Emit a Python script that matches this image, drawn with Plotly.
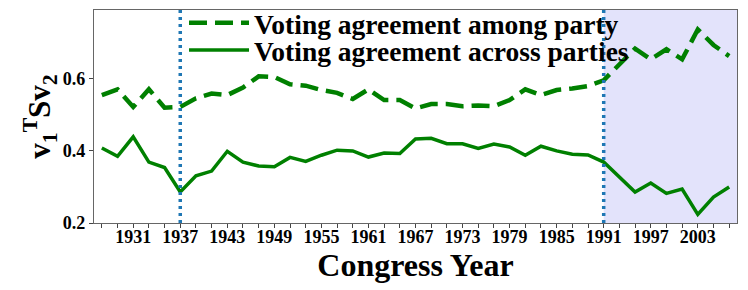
import plotly.graph_objects as go

years = list(range(1927, 2008, 2))
among_party = [0.555, 0.571, 0.522, 0.571, 0.520, 0.522, 0.546, 0.559, 0.555, 0.576,
               0.607, 0.605, 0.585, 0.581, 0.569, 0.561, 0.544, 0.571, 0.541, 0.541,
               0.518, 0.530, 0.530, 0.524, 0.526, 0.524, 0.541, 0.571, 0.555, 0.569,
               0.573, 0.580, 0.596, 0.638, 0.684, 0.654, 0.682, 0.654, 0.737, 0.694,
               0.663]
across_parties = [0.408, 0.385, 0.439, 0.369, 0.354, 0.286, 0.331, 0.344, 0.399, 0.369,
                  0.358, 0.356, 0.382, 0.371, 0.388, 0.402, 0.400, 0.383, 0.394, 0.393,
                  0.433, 0.435, 0.420, 0.420, 0.407, 0.419, 0.411, 0.388, 0.413, 0.400,
                  0.391, 0.389, 0.369, 0.328, 0.286, 0.311, 0.282, 0.294, 0.224, 0.272,
                  0.300]
series_names = ["Voting agreement among party", "Voting agreement across parties"]
event_years = [1937, 1991]
shade_start = 1991
label_years = list(range(1931, 2004, 6))
y_ticks = [0.2, 0.4, 0.6]
x_range = [1926, 2008]
y_range = [0.2, 0.791]

SERIF = "Liberation Serif, Times New Roman, serif"
GREEN = "#008000"

fig = go.Figure()

fig.add_vrect(x0=shade_start, x1=x_range[1], fillcolor="#e3e3fb", line_width=0, layer="below")

fig.add_trace(go.Scatter(x=years, y=among_party, mode="lines", name=series_names[0],
                         legend="legend",
                         line=dict(color=GREEN, width=4.5, dash="18px,8px")))
fig.add_trace(go.Scatter(x=years, y=across_parties, mode="lines", name=series_names[1],
                         legend="legend2",
                         line=dict(color=GREEN, width=3.5)))

for ey in event_years:
    fig.add_vline(x=ey, line=dict(color="#1f77b4", width=3.5, dash="3px,4px"), layer="above")

tick_text = [str(y) if y in label_years else "" for y in years]

leg_common = dict(xanchor="left", yanchor="middle",
                  bgcolor="rgba(0,0,0,0)", borderwidth=0,
                  font=dict(family=SERIF, size=27.5, weight="bold", color="black"),
                  itemwidth=60)

fig.update_layout(
    width=748, height=290,
    margin=dict(l=86, r=19, t=2, b=75, autoexpand=False),
    plot_bgcolor="white", paper_bgcolor="white",
    font=dict(family=SERIF, color="black"),
    showlegend=True,
    legend=dict(x=0.140, y=0.939, **leg_common),
    legend2=dict(x=0.140, y=0.812, **leg_common),
    xaxis=dict(range=x_range, tickmode="array", tickvals=years, ticktext=tick_text,
               ticks="outside", ticklen=4, tickwidth=1, tickcolor="#444",
               ticklabelstandoff=-7,
               showgrid=False, zeroline=False, automargin=False,
               showline=True, linecolor="#666", linewidth=1.2, mirror=True,
               tickfont=dict(family=SERIF, size=18, weight="bold", color="black"),
               title=dict(text="Congress Year", standoff=4,
                          font=dict(family=SERIF, size=32, weight="bold", color="black"))),
    yaxis=dict(range=y_range, tickmode="array", tickvals=y_ticks,
               ticktext=["0.2", "0.4", "0.6"],
               ticks="outside", ticklen=4, tickwidth=1, tickcolor="#444",
               showgrid=False, zeroline=False, automargin=False,
               showline=True, linecolor="#666", linewidth=1.2, mirror=True,
               tickfont=dict(family=SERIF, size=18, weight="bold", color="black"),
               title=dict(text="v<sub>1</sub><sup>T</sup>Sv<sub>2</sub>", standoff=2,
                          font=dict(family=SERIF, size=31, weight="bold", color="black"))),
)

fig.write_html("out.html")
